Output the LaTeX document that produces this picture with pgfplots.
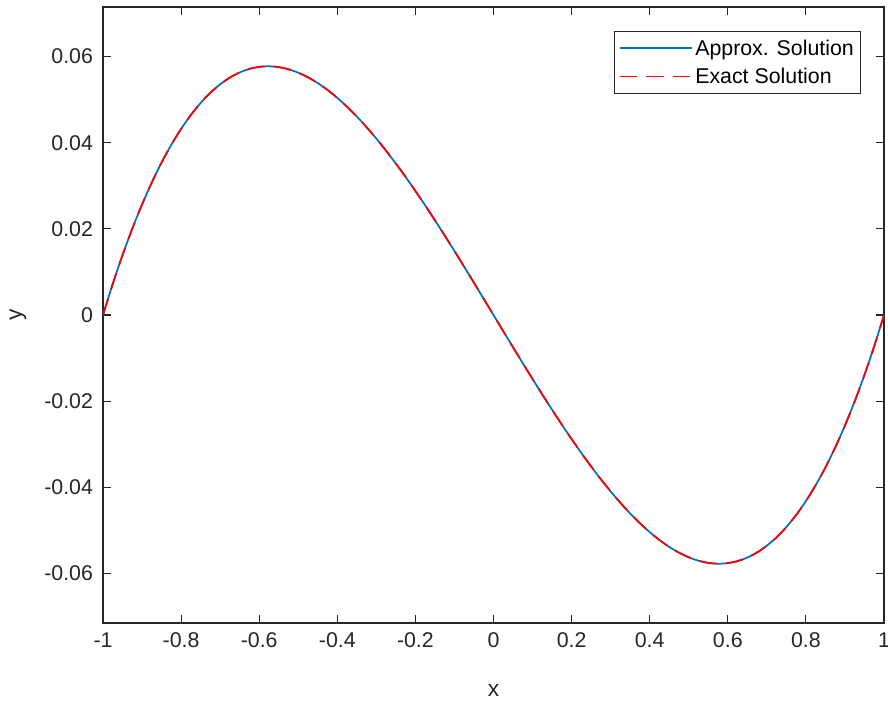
\documentclass[border=0pt]{standalone}
\usepackage{pgfplots}
\pgfplotsset{compat=1.18}
\usepackage{fontspec}
\setmainfont{Liberation Sans}
\definecolor{mblue}{rgb}{0,0.447,0.741}
\definecolor{mgray}{rgb}{0.15,0.15,0.15}
\pgfplotstableread{
x y
-1 0
-0.975 0.007221
-0.95 0.013894
-0.925 0.020032
-0.9 0.02565
-0.875 0.030762
-0.85 0.035381
-0.825 0.039523
-0.8 0.0432
-0.775 0.046427
-0.75 0.049219
-0.725 0.051588
-0.7 0.05355
-0.675 0.055118
-0.65 0.056306
-0.625 0.057129
-0.6 0.0576
-0.575 0.057734
-0.55 0.057544
-0.525 0.057045
-0.5 0.05625
-0.475 0.055174
-0.45 0.053831
-0.425 0.052235
-0.4 0.0504
-0.375 0.04834
-0.35 0.046069
-0.325 0.043601
-0.3 0.04095
-0.275 0.03813
-0.25 0.035156
-0.225 0.032041
-0.2 0.0288
-0.175 0.025446
-0.15 0.021994
-0.125 0.018457
-0.1 0.01485
-0.075 0.011187
-0.05 0.007481
-0.025 0.003748
0 0
0.025 -0.003748
0.05 -0.007481
0.075 -0.011187
0.1 -0.01485
0.125 -0.018457
0.15 -0.021994
0.175 -0.025446
0.2 -0.0288
0.225 -0.032041
0.25 -0.035156
0.275 -0.03813
0.3 -0.04095
0.325 -0.043601
0.35 -0.046069
0.375 -0.04834
0.4 -0.0504
0.425 -0.052235
0.45 -0.053831
0.475 -0.055174
0.5 -0.05625
0.525 -0.057045
0.55 -0.057544
0.575 -0.057734
0.6 -0.0576
0.625 -0.057129
0.65 -0.056306
0.675 -0.055118
0.7 -0.05355
0.725 -0.051588
0.75 -0.049219
0.775 -0.046427
0.8 -0.0432
0.825 -0.039523
0.85 -0.035381
0.875 -0.030762
0.9 -0.02565
0.925 -0.020032
0.95 -0.013894
0.975 -0.007221
1 0
}\sol
\begin{document}
\begin{tikzpicture}
\begin{axis}[
  at={(0,0)}, anchor=south west,
  scale only axis, width=585.75pt, height=462pt,
  xmin=-1, xmax=1, ymin=-0.0715, ymax=0.0715,
  xtick={-1,-0.8,...,1},
  ytick={-0.06,-0.04,-0.02,0,0.02,0.04,0.06},
  yticklabels={-0.06,-0.04,-0.02,0,0.02,0.04,0.06},
  xticklabels={-1,-0.8,-0.6,-0.4,-0.2,0,0.2,0.4,0.6,0.8,1},
  tick label style={font=\fontsize{16}{19}\selectfont, text=mgray},
  label style={font=\fontsize{17}{20}\selectfont, text=mgray},
  xlabel={x}, ylabel={y},
  xlabel style={at={(axis description cs:0.5,0)}, anchor=base, yshift=-55pt},
  ylabel style={at={(axis description cs:-0.109,0.5)}, anchor=center},
  axis line style={mgray, line width=0.9pt},
  major tick length=6pt,
  tick style={mgray, line width=0.8pt},
  xticklabel style={yshift=-4pt},
  yticklabel style={xshift=-4pt},
  legend style={at={(rel axis cs:0.9706,0.961)}, anchor=north east, draw=mgray, line width=0.8pt, font=\fontsize{16}{19}\selectfont, text=black, inner xsep=3pt, inner ysep=4pt, row sep=4pt, cells={anchor=west}},
  legend cell align=left,
  legend image code/.code={\draw[#1] (0pt,0pt) -- (54pt,0pt);},
]
\addplot[mblue, line width=1.3pt, smooth] table[x=x,y=y] {\sol};
\addlegendentry{Approx. Solution}
\addplot[red, line width=1.3pt, smooth, dash pattern=on 13pt off 7pt] table[x=x,y=y] {\sol};
\addlegendentry{Exact Solution}
\end{axis}
\pgfresetboundingbox
\path (-77.25pt,-57.75pt) rectangle (588.75pt,467.25pt);
\end{tikzpicture}
\end{document}
